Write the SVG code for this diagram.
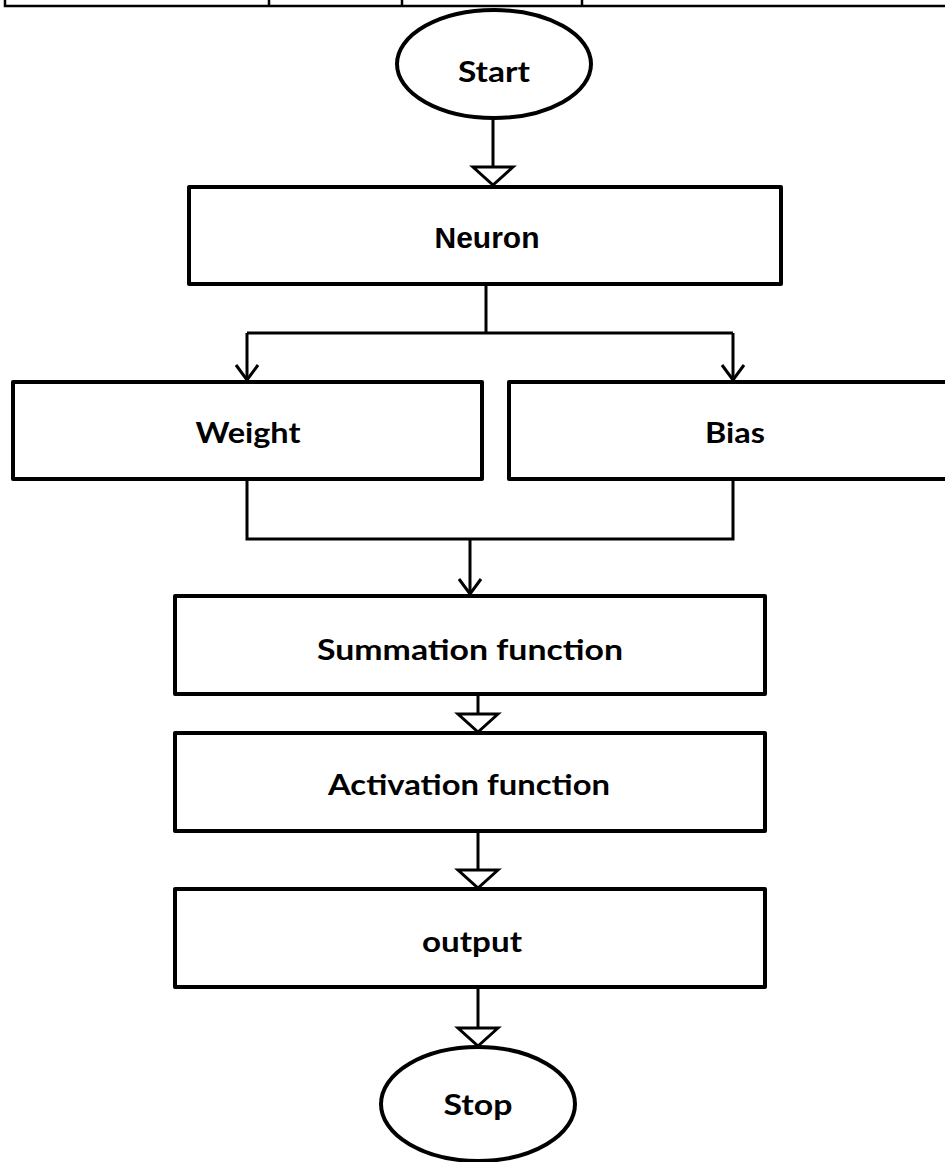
<svg xmlns="http://www.w3.org/2000/svg" width="945" height="1162" viewBox="0 0 945 1162">
<style>
.box{fill:#fff;stroke:#000;stroke-width:4;stroke-linejoin:round}
.ell{fill:#fff;stroke:#000;stroke-width:4}
.con{fill:none;stroke:#000;stroke-width:3}
.tbl{fill:none;stroke:#000;stroke-width:2.5}
.lbl{font-family:Lato,"Open Sans","Liberation Sans",sans-serif;font-weight:bold;font-size:28px;fill:#000;text-anchor:middle}
.arial{font-family:"Liberation Sans",Arial,sans-serif;font-weight:bold;font-size:30px;fill:#000;text-anchor:middle}
</style>
<defs>
<marker id="tri" markerUnits="userSpaceOnUse" markerWidth="24" markerHeight="48" viewBox="-2 -22 24 44" refX="18" refY="0" orient="auto">
<path d="M0,-20 L18,0 L0,20 Z" fill="#fff" stroke="#000" stroke-width="3" stroke-linejoin="miter"/>
</marker>
<marker id="vee" markerUnits="userSpaceOnUse" markerWidth="20" markerHeight="30" viewBox="-2 -14 20 28" refX="15" refY="0" orient="auto">
<path d="M0,-11 L15,0 L0,11" fill="none" stroke="#000" stroke-width="3"/>
</marker>
</defs>
<rect width="945" height="1162" fill="#fff"/>
<g id="table-fragment">
<path class="tbl" d="M5,0 V6 H945 M269,0 V6 M402,0 V6 M582,0 V6"/>
</g>
<g id="connectors">
<path class="con" d="M493,118 V185" marker-end="url(#tri)"/>
<path class="con" d="M486,284 V333"/>
<path class="con" d="M247,333 H733"/>
<path class="con" d="M247,333 V380" marker-end="url(#vee)"/>
<path class="con" d="M733,333 V380" marker-end="url(#vee)"/>
<path class="con" d="M247,479 V539 H733 V479"/>
<path class="con" d="M470,539 V594" marker-end="url(#vee)"/>
<path class="con" d="M478,694 V732" marker-end="url(#tri)"/>
<path class="con" d="M478,831 V888" marker-end="url(#tri)"/>
<path class="con" d="M478,987 V1046" marker-end="url(#tri)"/>
</g>
<g id="start">
<ellipse class="ell" cx="494" cy="64" rx="97" ry="54"/>
<text class="lbl" x="494" y="82" textLength="72" lengthAdjust="spacingAndGlyphs">Start</text>
</g>
<g id="neuron">
<rect class="box" x="189" y="187" width="592" height="97"/>
<text class="arial" x="487" y="248">Neuron</text>
</g>
<g id="weight">
<rect class="box" x="13" y="382" width="469" height="97"/>
<text class="lbl" x="248" y="443" textLength="105" lengthAdjust="spacingAndGlyphs">Weight</text>
</g>
<g id="bias">
<rect class="box" x="509" y="382" width="445" height="97"/>
<text class="lbl" x="735" y="443" textLength="60" lengthAdjust="spacingAndGlyphs">Bias</text>
</g>
<g id="summation">
<rect class="box" x="175" y="596" width="590" height="98"/>
<text class="lbl" x="470" y="660" textLength="306" lengthAdjust="spacingAndGlyphs">Summation function</text>
</g>
<g id="activation">
<rect class="box" x="175" y="733" width="590" height="98"/>
<text class="lbl" x="469" y="795" textLength="282" lengthAdjust="spacingAndGlyphs">Activation function</text>
</g>
<g id="output">
<rect class="box" x="175" y="889" width="590" height="98"/>
<text class="lbl" x="472" y="952" textLength="100" lengthAdjust="spacingAndGlyphs">output</text>
</g>
<g id="stop">
<ellipse class="ell" cx="478" cy="1104" rx="97" ry="57"/>
<text class="lbl" x="478" y="1115" textLength="69" lengthAdjust="spacingAndGlyphs">Stop</text>
</g>
</svg>
